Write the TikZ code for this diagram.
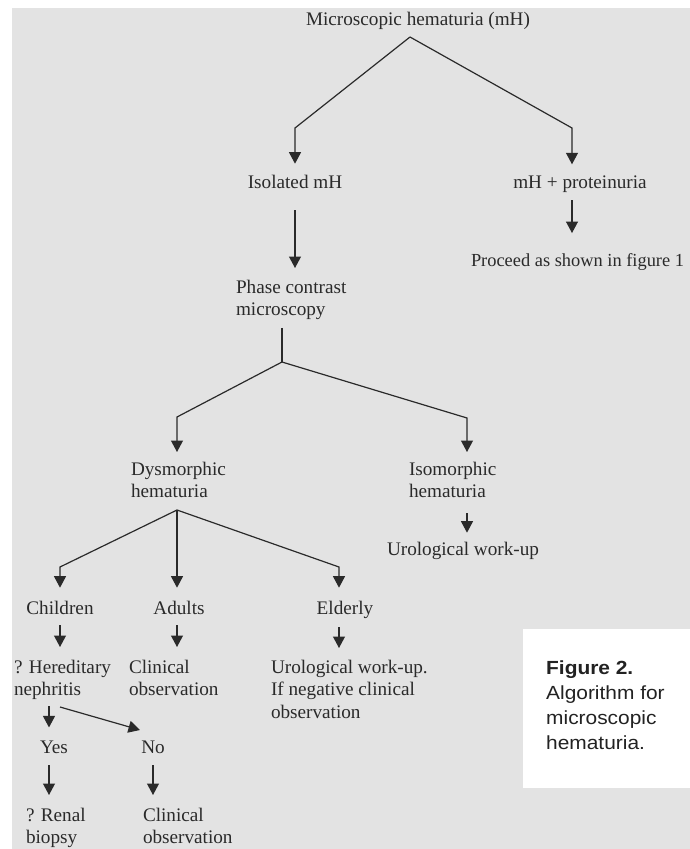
\documentclass[tikz,border=0pt]{standalone}
\usepackage{fontspec}
\setmainfont{Liberation Serif}
\newfontfamily\capfont[FakeStretch=1.1]{Liberation Sans}
\usetikzlibrary{arrows.meta,calc}
\definecolor{bggray}{HTML}{E3E3E3}
\definecolor{ink}{HTML}{2A2A2A}
\definecolor{capink}{HTML}{222222}
\begin{document}
\begin{tikzpicture}[x=1pt,y=-1pt,
  txt/.style={inner sep=0pt, outer sep=0pt, text=ink, font=\fontsize{19.2}{22.5}\selectfont, align=left},
  link/.style={draw=ink, line width=1.2pt},
  arr/.style={link, -{Triangle[length=11.5pt,width=12pt]}},
  captxt/.style={inner sep=0pt, text=capink, font=\capfont\fontsize{19}{24.7}\selectfont, align=left},
]
\useasboundingbox (0,0) rectangle (690,849);
\fill[white] (0,0) rectangle (690,849);
\fill[bggray] (12,8) rectangle (690,849);
\fill[white] (523,629) rectangle (690,788);

% text nodes
\node[txt, anchor=base] (title) at (418,25) {Microscopic hematuria (mH)};
\node[txt, anchor=base] (iso) at (295,188) {Isolated mH};
\node[txt, anchor=base] (prot) at (580,188) {mH + proteinuria};
\node[txt, anchor=base west, font=\fontsize{18.4}{22.5}\selectfont] (proceed) at (471,266) {Proceed as shown in figure 1};
\node[txt, anchor=north west] (phase) at (236,280) {Phase contrast\\microscopy};
\node[txt, anchor=north west] (dys) at (131,462) {Dysmorphic\\hematuria};
\node[txt, anchor=north west] (isom) at (409,462) {Isomorphic\\hematuria};
\node[txt, anchor=base west] (uro1) at (387,555) {Urological work-up};
\node[txt, anchor=base] (children) at (60,614) {Children};
\node[txt, anchor=base] (adults) at (179,614) {Adults};
\node[txt, anchor=base] (elderly) at (345,614) {Elderly};
\node[txt, anchor=north west] (hered) at (14,660) {? Hereditary\\nephritis};
\node[txt, anchor=north west] (clin1) at (129,660) {Clinical\\observation};
\node[txt, anchor=north west] (uro2) at (271,660) {Urological work-up.\\If negative clinical\\observation};
\node[txt, anchor=base] (yes) at (54,753) {Yes};
\node[txt, anchor=base] (no) at (153,753) {No};
\node[txt, anchor=north west] (renal) at (26,808) {? Renal\\biopsy};
\node[txt, anchor=north west] (clin2) at (143,808) {Clinical\\observation};

\node[captxt, anchor=north west] (caption) at (546,661) {\textbf{Figure 2.}\\Algorithm for\\microscopic\\hematuria.};

% branch points
\coordinate (A1) at (410,37);
\coordinate (C1) at (295,128);
\coordinate (C2) at (572,128);
\coordinate (A2) at (282,362);
\coordinate (C3) at (177,417);
\coordinate (C4) at (467,418);
\coordinate (A3) at (177,510);
\coordinate (C5) at (60,567);
\coordinate (C6) at (339,567);
\coordinate (L1) at (49,706);
\coordinate (D1) at (60,707);
\coordinate (D2) at (140,730);

% connectors
\draw[arr, shorten >=11pt] (A1) -- (C1) -- (C1 |- iso.north);
\draw[arr, shorten >=11pt] (A1) -- (C2) -- (C2 |- prot.north);
\draw[arr, shorten <=8pt, shorten >=20pt] (C2 |- prot.south) -- (C2 |- proceed.north);
\draw[arr, shorten <=22pt, shorten >=12pt] (iso.south) -- (iso.south |- phase.north);
\draw[link, shorten <=8pt] (A2 |- phase.south) -- (A2);
\draw[arr, shorten >=10pt] (A2) -- (C3) -- (C3 |- dys.north);
\draw[arr, shorten >=10pt] (A2) -- (C4) -- (C4 |- isom.north);
\draw[arr, shorten <=15pt, shorten >=9pt] (C4 |- isom.south) -- (C4 |- uro1.north);
\draw[arr, shorten >=13pt] (A3) -- (C5) -- (C5 |- children.north);
\draw[arr, shorten >=13pt] (A3) -- (A3 |- adults.north);
\draw[arr, shorten >=13pt] (A3) -- (C6) -- (C6 |- elderly.north);
\draw[arr, shorten <=11pt, shorten >=13pt] (C5 |- children.south) -- (C5 |- hered.north);
\draw[arr, shorten <=11pt, shorten >=13pt] (A3 |- adults.south) -- (A3 |- clin1.north);
\draw[arr, shorten <=9pt, shorten >=12pt] (C6 |- elderly.south) -- (C6 |- uro2.north);
\draw[arr, shorten >=13pt] (L1) -- (L1 |- yes.north);
\draw[arr] (D1) -- (D2);
\draw[arr, shorten <=12pt, shorten >=13pt] (L1 |- yes.south) -- (L1 |- renal.north);
\draw[arr, shorten <=12pt, shorten >=13pt] (no.south) -- (no.south |- clin2.north);
\end{tikzpicture}
\end{document}
